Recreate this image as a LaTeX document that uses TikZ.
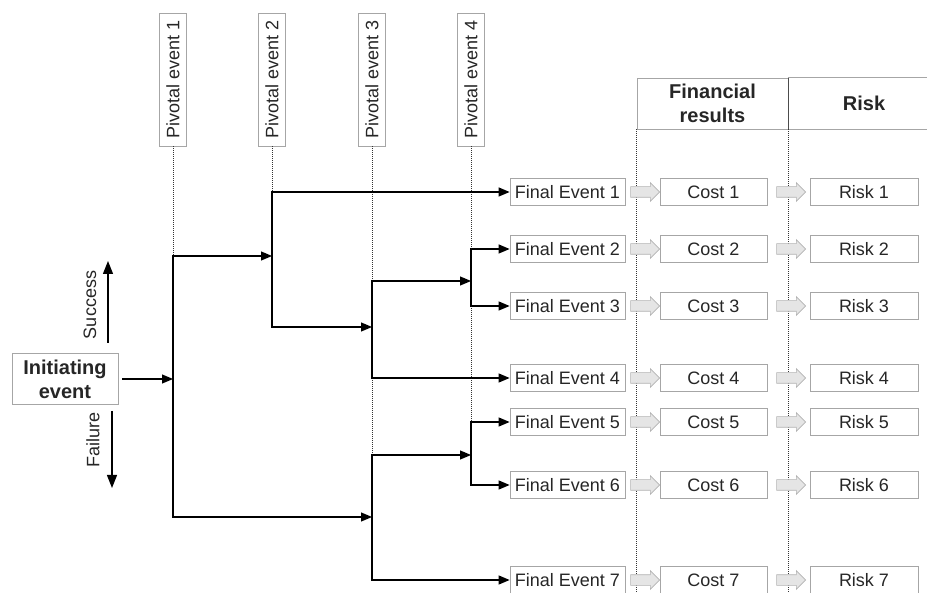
\documentclass[tikz,border=0pt]{standalone}
\usepackage{fontspec}
\setmainfont{Liberation Sans}
\usetikzlibrary{arrows.meta,positioning,calc,shapes.arrows}

\begin{document}
\begin{tikzpicture}[x=1pt,y=-1pt,
	every node/.style={font=\fontsize{18}{20}\selectfont,text=black!85},
	box/.style={draw=gray!70,line width=0.8pt,minimum height=27pt,inner sep=0pt},
	pivot/.style={draw=gray!70,line width=0.8pt,minimum width=27pt,minimum height=133pt,inner sep=0pt},
	headtxt/.style={font=\bfseries\fontsize{20}{24}\selectfont,align=center},
	tree/.style={line width=1.2pt,-{Triangle[length=11pt,width=9pt]}},
	dir/.style={line width=1.3pt,-{Triangle[length=13pt,width=10pt]}},
	guide/.style={line width=1pt,black!80,dash pattern=on 1pt off 1pt},
	hollow/.style={single arrow,draw=gray!60,fill=gray!20,line width=0.6pt,minimum height=29pt,single arrow head extend=4pt,inner xsep=0pt,inner ysep=5pt,single arrow tip angle=90}]
	\useasboundingbox (0,0) rectangle (927,593);
	
	% junctions of the tree
	\coordinate (j1) at (173,379);
	\coordinate (j2) at (272,256);
	\coordinate (j3a) at (372,327);
	\coordinate (j3b) at (372,517);
	\coordinate (j4a) at (471,281);
	\coordinate (j4b) at (471,455);
	
	% pivotal events
	\foreach \x/\i in {173/1,272/2,372/3,471/4}
		\node[pivot] (pe\i) at (\x,79.5) {\rotatebox{90}{Pivotal event \i}};
	
	% header
	\node[headtxt,draw=gray!70,line width=0.8pt,minimum width=151pt,minimum height=51pt] (fin) at (712.5,103.5) {Financial\\results};
	\node[headtxt,minimum width=152pt,minimum height=51pt] (risk) at (864,103.5) {Risk};
	\draw[gray!70,line width=0.8pt] (risk.north west) -- (risk.north east) (risk.south west) -- (risk.south east);
	\draw[black!70,line width=0.8pt] (fin.north east) -- (fin.south east);
	\draw[guide] (fin.south west) -- ++(0,470);
	\draw[guide] (fin.south east) -- ++(0,470);
	
	% final events, costs and risks
	\foreach \i/\y in {1/192,2/249,3/306,4/378,5/422,6/485,7/580} {
		\node[box,minimum width=115pt] (fe\i) at (567.5,\y) {Final Event \i};
		\node[box,minimum width=107pt] (c\i) at (713.5,\y) {Cost \i};
		\node[box,minimum width=108pt] (r\i) at (864,\y) {Risk \i};
		\node[hollow] (a\i) at ($(fe\i.east)!0.5!(c\i.west)$) {};
		\node[hollow] (b\i) at ($(c\i.east)!0.5!(r\i.west)$) {};
	}
	
	% initiating event
	\node[box,headtxt,minimum width=106pt,minimum height=51pt] (ie) at (65,379) {Initiating\\event};
	\node[rotate=90] (succ) at (90,305) {Success};
	\node[rotate=90] (fail) at (93,440) {Failure};
	\coordinate (s0) at (108,343);
	\coordinate (s1) at (108,261);
	\coordinate (f0) at (112,411);
	\coordinate (f1) at (112,488);
	\draw[dir] (s0) -- (s1);
	\draw[dir] (f0) -- (f1);
	
	% dotted lines below the pivotal events
	\draw[guide] (pe1) -- (pe1 |- j2);
	\draw[guide] (pe2) -- (pe2 |- fe1);
	\draw[guide] (pe3) -- (pe3 |- j4a);
	\draw[guide] (j3a |- fe4) -- (j3b |- j4b);
	\draw[guide] (pe4) -- (pe4 |- fe2);
	\draw[guide] (j4a |- fe3) -- (j4b |- fe5);
	
	% event tree
	\draw[tree,shorten <=4pt] (ie) -- (j1);
	\draw[tree] (j1) |- (j2);
	\draw[tree] (j1) |- (j3b);
	\draw[tree] (j2) |- (fe1);
	\draw[tree] (j2) |- (j3a);
	\draw[tree] (j3a) |- (j4a);
	\draw[tree] (j3a) |- (fe4);
	\draw[tree] (j4a) |- (fe2);
	\draw[tree] (j4a) |- (fe3);
	\draw[tree] (j3b) |- (j4b);
	\draw[tree] (j3b) |- (fe7);
	\draw[tree] (j4b) |- (fe5);
	\draw[tree] (j4b) |- (fe6);
\end{tikzpicture}
\end{document}
